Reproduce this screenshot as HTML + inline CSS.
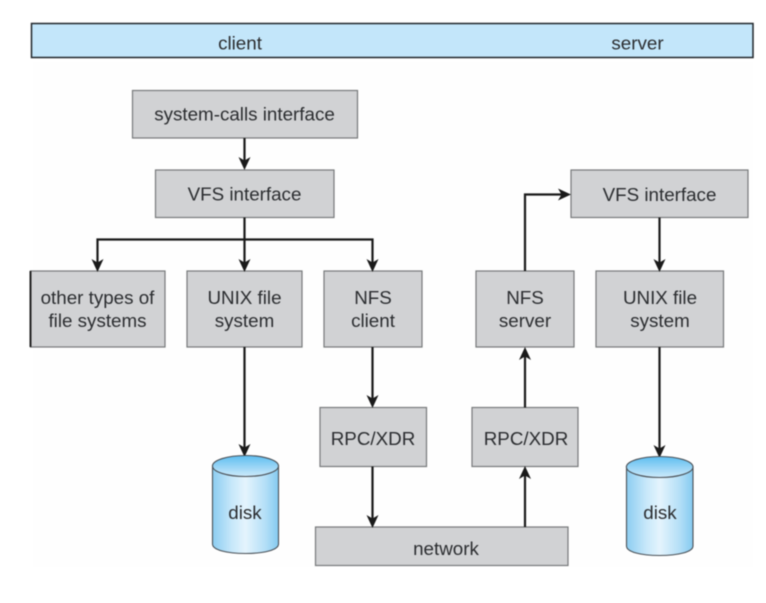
<!DOCTYPE html>
<html><head><meta charset="utf-8"><style>
html,body{margin:0;padding:0;background:#fff;width:766px;height:603px;overflow:hidden}
svg{display:block;filter:blur(0.4px)}
text{font-family:"Liberation Sans",sans-serif;font-size:18.8px;fill:#2b2d30;text-anchor:middle}
.b{fill:#d1d2d4;stroke:#77797b;stroke-width:1.2}
.l{fill:none;stroke:#1a1a1a;stroke-width:2.2}
.a{fill:#1a1a1a}
.d{stroke:#4a5056;stroke-width:1.1}
</style></head><body>
<svg width="766" height="603" viewBox="0 0 766 603" xmlns="http://www.w3.org/2000/svg">
<defs>
<linearGradient id="cyl" x1="0" x2="1" y1="0" y2="0">
<stop offset="0" stop-color="#8ccdf1"/><stop offset=".3" stop-color="#c8e8fa"/><stop offset=".5" stop-color="#e4f4fd"/><stop offset=".8" stop-color="#b4dff7"/><stop offset="1" stop-color="#84caf0"/>
</linearGradient>
<linearGradient id="top" x1="0" x2="0" y1="0" y2="1">
<stop offset="0" stop-color="#5dbdf0"/><stop offset="1" stop-color="#cdeafb"/>
</linearGradient>
</defs>
<rect x="33" y="62" width="720" height="505" fill="#fefefe"/>
<rect x="31.5" y="23.5" width="721.5" height="34" fill="#c3e6fa" stroke="#20262b" stroke-width="1.5"/>
<text x="240" y="49.5">client</text>
<text x="637.5" y="49.5">server</text>

<rect class="b" x="132.5" y="90.5" width="225" height="47.5"/>
<text x="244.5" y="120.5">system-calls interface</text>
<rect class="b" x="155.5" y="170" width="178.5" height="47.5"/>
<text x="244.5" y="200.5">VFS interface</text>
<rect class="b" x="571" y="170" width="177" height="47.5"/>
<text x="659.5" y="201">VFS interface</text>

<rect class="b" x="30.5" y="271" width="134.5" height="76"/>
<rect x="29.5" y="271" width="2" height="76" fill="#222"/>
<text x="97.5" y="304">other types of</text>
<text x="97.5" y="327">file systems</text>
<rect class="b" x="187" y="271" width="115" height="76"/>
<text x="244.5" y="304">UNIX file</text>
<text x="244.5" y="327">system</text>
<rect class="b" x="324" y="271" width="98" height="76"/>
<text x="373" y="304">NFS</text>
<text x="373" y="327">client</text>
<rect class="b" x="476" y="271" width="98" height="76"/>
<text x="525" y="304">NFS</text>
<text x="525" y="327">server</text>
<rect class="b" x="596" y="271" width="127.5" height="76"/>
<text x="660" y="304">UNIX file</text>
<text x="660" y="327">system</text>

<rect class="b" x="320" y="407.5" width="106.5" height="59"/>
<text x="373" y="445">RPC/XDR</text>
<rect class="b" x="472" y="407.5" width="106" height="59"/>
<text x="526" y="445">RPC/XDR</text>
<rect class="b" x="315.5" y="527" width="252.5" height="38.5"/>
<text x="446" y="555">network</text>

<g class="l">
<path d="M244.5 138V162"/>
<path d="M244.5 217.5V264"/>
<path d="M97.5 264V239.5H372.5V264"/>
<path d="M244.5 347V449"/>
<path d="M372.5 347V400"/>
<path d="M372.5 466.5V520"/>
<path d="M525 527V474"/>
<path d="M525 407.5V355"/>
<path d="M525 271V194.5H563"/>
<path d="M659.5 217.5V264"/>
<path d="M659.5 347V450"/>
</g>
<g class="a">
<path d="M238.5 157L244.5 160.5L250.5 157L244.5 170Z"/>
<path d="M91.5 259L97.5 262.5L103.5 259L97.5 272Z"/>
<path d="M238.5 259L244.5 262.5L250.5 259L244.5 272Z"/>
<path d="M366.5 259L372.5 262.5L378.5 259L372.5 272Z"/>
<path d="M238.5 444L244.5 447.5L250.5 444L244.5 457Z"/>
<path d="M366.5 395L372.5 398.5L378.5 395L372.5 408Z"/>
<path d="M366.5 515L372.5 518.5L378.5 515L372.5 528Z"/>
<path d="M519 479L525 475.5L531 479L525 466Z"/>
<path d="M519 360L525 356.5L531 360L525 347Z"/>
<path d="M558 188.5L561.5 194.5L558 200.5L571 194.5Z"/>
<path d="M653.5 259L659.5 262.5L665.5 259L659.5 272Z"/>
<path d="M653.5 445L659.5 448.5L665.5 445L659.5 458Z"/>
</g>

<path class="d" d="M212.5 466V544C212.5 550 227 553.5 245.5 553.5S278.5 550 278.5 544V466Z" fill="url(#cyl)"/>
<ellipse class="d" cx="245.5" cy="466" rx="33" ry="10.5" fill="url(#top)"/>
<text x="245" y="519">disk</text>
<path class="d" d="M626.5 467V546C626.5 552 641 555.5 659.5 555.5S693 552 693 546V467Z" fill="url(#cyl)"/>
<ellipse class="d" cx="659.7" cy="467" rx="33.3" ry="10.5" fill="url(#top)"/>
<text x="660" y="519">disk</text>
</svg>
</body></html>
